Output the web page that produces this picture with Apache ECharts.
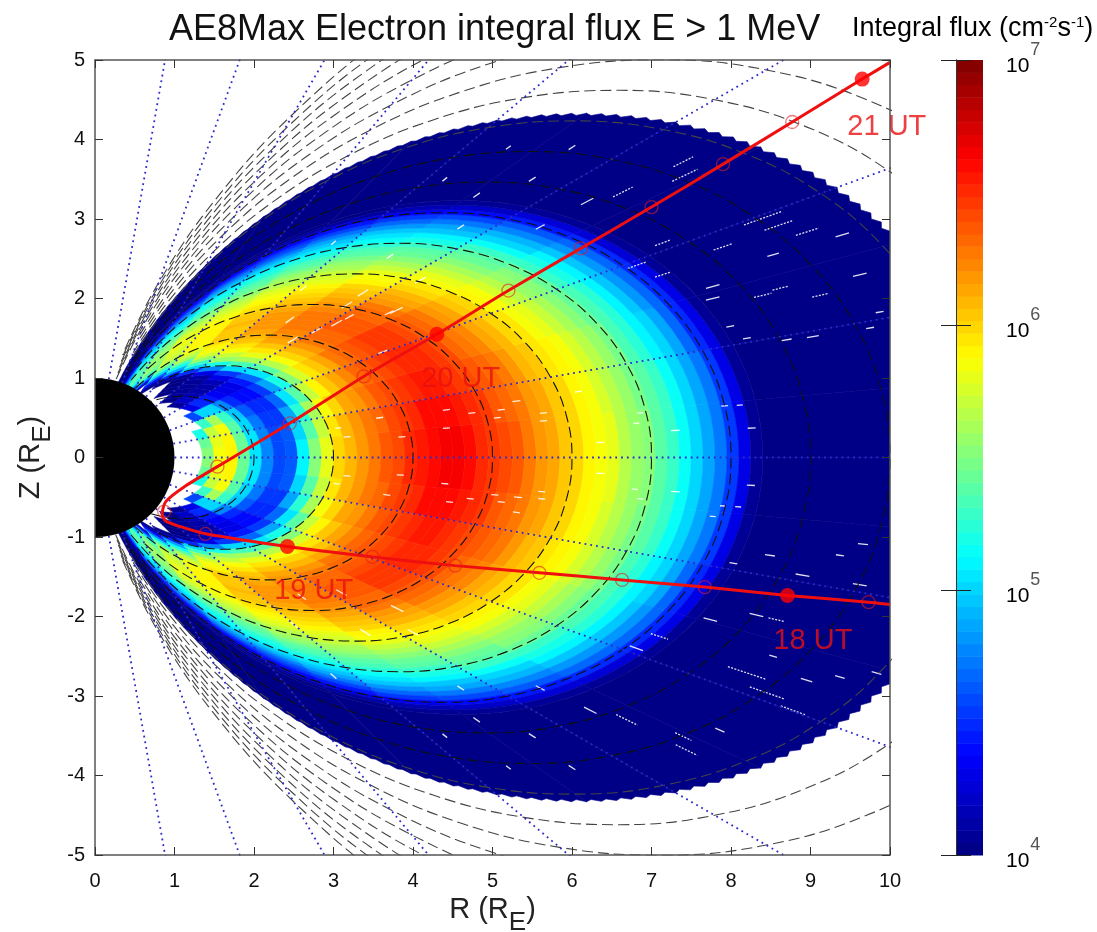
<!DOCTYPE html>
<html><head><meta charset="utf-8">
<style>html,body{margin:0;padding:0;background:#fff}#c{width:1097px;height:932px}</style>
<script src="https://cdn.jsdelivr.net/npm/echarts@6/dist/echarts.min.js"></script>
</head><body><div id="c"></div>
<script>
// Shell boundaries (L, in Earth radii), one more than fluxTable rows
const shellEdges=[1.35,1.5,1.65,1.8,1.95,2.1,2.25,2.4,2.55,2.7,2.85,3,3.15,3.3,3.45,3.6,3.75,3.9,4.05,4.2,4.35,4.5,4.65,4.8,4.95,5.1,5.25,5.4,5.55,5.7,5.85,6,6.15,6.3,6.45,6.6,6.75,6.9,7.05,7.2,7.35,7.5,7.65,7.8,7.95,8.1,8.25,8.4,11.25];
// Magnetic latitude table (deg) with dipole field-line shape: R/L, Z/L, r/L, and ray direction
const latTable=[0,5,10,15,20,25,30,35,40,45,50,55,60,65,70,75,80];
const shapeR=[1,.9886,.9551,.9012,.8298,.7444,.6495,.5497,.4495,.3536,.2656,.1887,.125,.0755,.04,.0173,.0052];
const shapeZ=[0,.0865,.1684,.2415,.302,.3471,.375,.3849,.3772,.3536,.3165,.2695,.2165,.1619,.1099,.0647,.0297];
const shapeRad=[1,.9924,.9698,.933,.883,.8214,.75,.671,.5868,.5,.4132,.329,.25,.1786,.117,.067,.0302];
const rayCos=[1,.9848,.9397,.866,.766,.6428,.5,.342,.1736];
const raySin=[0,.1736,.342,.5,.6428,.766,.866,.9397,.9848];
// log10 flux: row = shell, column = latitude band starting at latTable[col]; missing = below 1e4
const fluxTable=[
[5.5,5.45,5.2],
[5.85,5.8,5.7,5.3,4.6],
[5.9,5.88,5.85,5.6,5,4.3,4.05],
[5.45,5.45,5.4,5.3,5,4.5,4.2,4.02],
[5.05,5.05,5,4.95,4.75,4.45,4.15,4.05],
[4.75,4.75,4.72,4.65,4.5,4.35,4.12,4.05,4.02],
[4.6,4.6,4.55,4.5,4.4,4.3,4.12,4.05,4.02],
[4.65,4.62,4.55,4.48,4.4,4.3,4.15,4.05,4.02],
[5.1,5,4.85,4.7,4.55,4.45,4.3,4.1,4.03],
[5.5,5.4,5.25,5.05,4.85,4.7,4.55,4.3,4.08,4.02],
[5.8,5.72,5.6,5.4,5.2,5.05,5,4.75,4.5,4.1,4.02],
[6,5.95,5.85,5.7,5.5,5.4,5.35,5.2,5,4.5,4.1],
[6.1,6.08,6,5.9,5.75,5.65,5.6,5.55,5.3,4.85,4.4],
[6.2,6.18,6.12,6.05,5.95,5.85,5.8,5.7,5.55,5.15,4.7],
[6.28,6.25,6.2,6.15,6.05,6,5.95,5.85,5.75,5.4,5,4.1],
[6.35,6.33,6.28,6.22,6.15,6.1,6.05,5.95,5.85,5.6,5.25,4.4],
[6.42,6.4,6.35,6.3,6.25,6.18,6.12,6.05,5.92,5.7,5.45,4.7],
[6.5,6.48,6.42,6.38,6.32,6.25,6.18,6.1,6,5.8,5.55,5,4.1],
[6.55,6.52,6.48,6.43,6.38,6.3,6.22,6.14,6.02,5.85,5.65,5.25,4.5],
[6.6,6.58,6.53,6.48,6.42,6.33,6.25,6.17,6.05,5.88,5.7,5.4,4.7],
[6.63,6.6,6.55,6.5,6.45,6.36,6.27,6.18,6.06,5.9,5.75,5.48,4.9],
[6.65,6.62,6.57,6.52,6.46,6.37,6.28,6.18,6.07,5.92,5.78,5.52,5.05],
[6.58,6.56,6.53,6.5,6.45,6.36,6.27,6.16,6.05,5.92,5.8,5.55,5.2],
[6.52,6.5,6.48,6.45,6.42,6.33,6.24,6.13,6.03,5.9,5.82,5.57,5.28],
[6.45,6.44,6.42,6.4,6.37,6.3,6.2,6.1,6,5.88,5.82,5.58,5.33],
[6.4,6.38,6.36,6.34,6.31,6.25,6.15,6.05,5.95,5.85,5.8,5.58,5.36],
[6.35,6.33,6.31,6.28,6.25,6.2,6.1,6,5.9,5.82,5.77,5.56,5.38],
[6.28,6.27,6.25,6.22,6.2,6.13,6.04,5.94,5.85,5.78,5.72,5.54,5.38],
[6.2,6.2,6.18,6.15,6.13,6.07,5.97,5.88,5.8,5.72,5.65,5.5,5.36,4.6],
[6.13,6.13,6.1,6.08,6.06,6,5.9,5.82,5.74,5.65,5.58,5.45,5.33,4.9],
[6.05,6.05,6.03,6,5.98,5.93,5.86,5.76,5.68,5.58,5.52,5.38,5.28,5],
[5.98,5.97,5.95,5.93,5.9,5.87,5.8,5.7,5.62,5.52,5.45,5.32,5.22,5],
[5.92,5.91,5.9,5.87,5.83,5.8,5.72,5.63,5.56,5.45,5.38,5.26,5.16,4.95],
[5.87,5.86,5.84,5.8,5.76,5.72,5.63,5.55,5.48,5.38,5.32,5.2,5.1,4.9],
[5.8,5.78,5.76,5.72,5.68,5.62,5.54,5.47,5.4,5.32,5.26,5.14,5.05,4.85],
[5.68,5.67,5.65,5.62,5.58,5.52,5.45,5.4,5.33,5.25,5.2,5.07,4.98,4.8],
[5.58,5.57,5.55,5.52,5.5,5.44,5.38,5.32,5.25,5.18,5.13,5,4.92,4.7],
[5.5,5.49,5.47,5.44,5.41,5.36,5.3,5.25,5.15,5.1,5.05,4.92,4.85,4.6],
[5.38,5.37,5.35,5.33,5.31,5.27,5.2,5.15,5.05,5,4.97,4.82,4.75,4.5],
[5.28,5.27,5.25,5.23,5.2,5.15,5.1,5.05,4.95,4.9,4.85,4.72,4.65,4.4],
[5.15,5.14,5.12,5.1,5.08,5.02,4.98,4.95,4.85,4.78,4.75,4.62,4.55,4.3],
[5.02,5.01,5,4.97,4.95,4.9,4.86,4.82,4.72,4.65,4.62,4.5,4.45,4.2],
[4.88,4.87,4.86,4.84,4.82,4.78,4.73,4.68,4.6,4.52,4.5,4.4,4.32,4.12],
[4.72,4.71,4.7,4.68,4.67,4.62,4.58,4.52,4.45,4.4,4.35,4.25,4.2,4.05],
[4.52,4.52,4.5,4.48,4.47,4.44,4.4,4.35,4.3,4.25,4.2,4.12,4.08,4.03],
[4.32,4.32,4.3,4.29,4.28,4.25,4.22,4.18,4.12,4.1,4.08,4.05,4.03,4.02],
[4.08,4.08,4.07,4.07,4.06,4.06,4.05,4.05,4.04,4.03,4.03,4.02,4.02,4.02],
[4.02,4.02,4.02,4.02,4.02,4.02,4.02,4.02,4.02,4.02,4.02,4.02,4.02,4.02,4.02]
];
// White gaps in the flux map: R, Z, length
const gapMarks=[[4.42,.6,7],[4.74,.56,7],[5.06,.5,7],[5.11,.6,7],[5.3,.71,8],[5.64,.56,7],[5.64,.46,7],[6.08,.83,7],[6.36,.19,8],[6.36,-.2,8],[4.42,.37,7],[4.4,-.33,7],[4.46,-.56,7],[4.72,-.52,7],[5.03,-.47,7],[5.11,-.56,7],[5.32,-.5,8],[5.3,-.69,7],[5.62,-.43,7],[5.62,-.52,7],[3.84,-.22,7],[3.86,.26,7],[3.58,.5,7],[3.67,-.47,7],[3.17,.26,7],[3.17,-.23,7],[3.06,.37,6],[3.04,-.33,6],[3.62,1.33,10],[3.2,1.77,10],[3.7,1.82,10],
[7.3,.34,9],[7.3,-.43,9],[6.86,.56,6],[6.81,.43,6],[6.79,-.4,6],[6.86,-.52,6],[7.92,.65,7],[8.11,.66,6],[8.26,.37,8],[8.25,-.35,8],[7.9,-.61,6],[8.09,-.62,6],[7.77,-.74,6],
[8.4,3.01,40],[7.9,2.65,20],[8.6,2.92,30],[7.4,3.72,22],[7.42,3.55,28],[6.64,3.34,22],[6.19,3.22,14],[6.82,2.42,20],[7.14,2.7,16],[8.96,2.84,24],[9.4,2.8,14],[8.53,2.55,12],[7.77,2.15,14],[8.4,2.04,18],[8.62,2.13,16],[9.12,2.04,16],[9.62,2.3,14],[7.14,2.3,16],[7.77,2,14],[8.7,1.48,10],[9.03,1.52,12],[8.2,1.5,8],[7.99,1.65,8],[9.87,1.83,8],[9.75,1.63,8],
[8.2,-2.71,40],[8.45,-2.96,36],[8.78,-3.18,26],[8.57,-2.04,16],[8.32,-1.98,14],[7.74,-2.04,14],[7.1,-2.25,18],[6.81,-2.4,14],[6.69,-3.3,24],[7.4,-3.51,18],[7.44,-3.68,24],[6.23,-3.18,14],[7.86,-3.43,10],[9.37,-2.76,10],[8.95,-2.8,12],[8.53,-2.5,8],[8.9,-1.48,14],[9.62,-1.6,14],[8.49,-1.23,10],[9.37,-1.23,8],[9.66,-1.09,10],[8.03,-1.33,8],[9.83,-2.71,10],
[3.04,1.69,12],[3.79,1.85,14],[3.17,1.92,12],[2.45,1.73,10],[3.37,2.07,12],[4.09,2.23,12],[2.62,2.13,8],[3.71,2.53,8],[3,2.7,6],[2.79,1.6,12],[2.49,1.48,12],[3.1,-1.7,12],[3.8,-1.9,14],[2.6,-1.75,10],[4,-2.2,12],[3.4,-2.2,12],[3,-2.75,8],[2.5,-2.1,10],[4.6,2.9,8],[5.5,3.5,8],[4.8,3.3,8],[5.6,2.9,10],[4.4,3.5,6],[5.2,3.9,6],[6,3.9,8],[4.6,-2.9,8],[5.5,-3.5,8],[4.8,-3.3,8],[5.6,-2.9,10],[4.4,-3.5,6],[5.2,-3.9,6],[6,-3.9,8]];
// L shells drawn as dashed field lines
const shellLines=[2,3,4,5,6,7,8,9,10,11,12,13,14,15,16,17,18,19,20];
// Spacecraft track (R, Z)
const orbitR=[10,9.73,8.71,7.67,6.63,5.59,4.53,3.49,2.42,1.39,1.075,.89,.845,.89,1.12,1.54,2.45,3.38,4.3,5.2,6.11,7,7.9,8.77,9.65,10];
const orbitZ=[-1.85,-1.82,-1.735,-1.63,-1.54,-1.45,-1.36,-1.25,-1.12,-.96,-.87,-.8,-.71,-.555,-.37,-.115,.43,1.02,1.55,2.1,2.63,3.15,3.69,4.22,4.76,4.97];
const openR=[9.73,7.67,6.63,5.59,4.53,3.49,1.39,.87,1.54,2.45,3.38,5.2,6.11,7,7.9,8.77];
const openZ=[-1.82,-1.63,-1.54,-1.45,-1.36,-1.25,-.96,-.68,-.115,.43,1.02,2.1,2.63,3.15,3.69,4.22];
const hourR=[8.71,2.42,4.3,9.65];
const hourZ=[-1.735,-1.12,1.55,4.76];
const hourText=['18 UT','19 UT','20 UT','21 UT'];
const hourTextR=[9.03,2.75,4.6,9.96];
const hourTextZ=[-2.31,-1.68,.99,4.16];
const barExponents=[4,5,6,7];

function clamp(v){return Math.max(0,Math.min(1,v));}
const jet=[];
for(let i=0;i<64;i++){const x=(i+.5)/64;
  jet.push('rgb('+[4*x-3,4*x-2,4*x-1].map(d=>Math.round(255*clamp(1.5-Math.abs(d)))).join(',')+')');}
function colorOf(v){return jet[Math.max(0,Math.min(63,Math.floor((v-4)/3*64)))];}
// dipole coordinates (L, latitude) to the chart's (R, Z)
function dipole(L,latDeg,s){const a=latDeg*Math.PI/180,c=Math.cos(a);return [L*c*c*c,s*L*c*c*Math.sin(a)];}

const lastRow=fluxTable.length-1;
const cells=[];
fluxTable.forEach((row,r)=>{row.forEach((v,c)=>{
  [1,-1].forEach(s=>cells.push([shellEdges[r],shellEdges[r+1],c,s,v,r]));
});});
const fieldSeries=shellLines.map(L=>{
  const north=[];
  latTable.forEach((_,i)=>{if(L*shapeRad[i]>=1)north.push([L*shapeR[i],L*shapeZ[i]]);});
  const south=north.slice(1).reverse().map(p=>[p[0],-p[1]]);
  return {type:'line',xAxisIndex:0,yAxisIndex:0,data:south.concat(north),showSymbol:false,smooth:.4,z:3,silent:true,
    lineStyle:{color:L>10?'#444':'#111',width:1.1,type:[11,5]}};
});
const raySeries=[];
rayCos.forEach((c,i)=>{[1,-1].forEach(s=>{
  if(i===0&&s<0)return;
  raySeries.push({type:'line',xAxisIndex:0,yAxisIndex:0,data:[[c,s*raySin[i]],[c*13,s*raySin[i]*13]],showSymbol:false,z:4,silent:true,
    lineStyle:{color:'#2a2acc',width:1.8,type:[1.8,4]}});
});});
const zip=(a,b)=>a.map((v,i)=>[v,b[i]]);
const tickAxis=(extra)=>Object.assign({type:'value',min:-5,max:5,interval:1,z:20,splitLine:{show:false},
  axisLine:{show:true,onZero:false,lineStyle:{color:'#555',width:1.5}},
  axisTick:{show:true,inside:true,length:8,lineStyle:{color:'#333',width:1}},
  axisLabel:{show:false}},extra);
const font='"Liberation Sans",Arial,sans-serif';
const labelStyle={show:true,fontFamily:font,fontSize:20,color:'#111'};
const chart=echarts.init(document.getElementById('c'),null,{renderer:'canvas'});
chart.setOption({
  animation:false,backgroundColor:'#fff',
  title:{text:'AE8Max Electron integral flux E > 1 MeV',left:164,top:7,textStyle:{fontFamily:font,fontWeight:'normal',fontSize:36,color:'#111'}},
  graphic:[{type:'text',left:852,top:15,style:{fontFamily:font,rich:{n:{fontFamily:font,fontSize:27,color:'#222'},s:{fontFamily:font,fontSize:15,color:'#444',padding:[0,0,12,0]}},
    text:'{n|Integral flux (cm}{s|-2}{n|s}{s|-1}{n|)}'}}],
  grid:[{left:95,top:60,width:795,height:795,outerBoundsMode:'none'},{left:956,top:60,width:27,height:795,outerBoundsMode:'none'}],
  xAxis:[
    tickAxis({min:0,max:10,gridIndex:0,position:'bottom',axisLabel:{...labelStyle,margin:16},
      name:'{n|R (R}{s|E}{n|)}',nameLocation:'middle',nameGap:28,
      nameTextStyle:{rich:{n:{fontFamily:font,fontSize:29,color:'#222'},s:{fontFamily:font,fontSize:26,color:'#222',padding:[24,0,0,0]}}}}),
    tickAxis({min:0,max:10,gridIndex:0,position:'top'}),
    {type:'value',gridIndex:1,min:0,max:1,show:false}
  ],
  yAxis:[
    tickAxis({gridIndex:0,position:'left',axisLabel:{...labelStyle,margin:10},
      name:'{n|Z (R}{s|E}{n|)}',nameLocation:'middle',nameGap:30,nameRotate:90,
      nameTextStyle:{rich:{n:{fontFamily:font,fontSize:29,color:'#222'},s:{fontFamily:font,fontSize:26,color:'#222',padding:[24,0,0,0]}}}}),
    tickAxis({gridIndex:0,position:'right'}),
    {type:'value',gridIndex:1,min:4,max:7,interval:1,position:'right',z:20,splitLine:{show:false},
      axisLine:{show:true,lineStyle:{color:'#333',width:1}},axisTick:{show:true,length:15,lineStyle:{color:'#222',width:1}},
      axisLabel:{show:true,margin:23,formatter:v=>barExponents.includes(v)?'{b|10}{s|'+v+'}':'',
        rich:{b:{fontFamily:font,fontSize:21,color:'#000',padding:[12,0,0,0]},s:{fontFamily:font,fontSize:18,color:'#555',padding:[0,0,20,1]}}}},
    {type:'value',gridIndex:1,min:4,max:7,interval:1,position:'left',z:20,splitLine:{show:false},
      axisLine:{show:true,lineStyle:{color:'#333',width:1}},axisTick:{show:true,length:15,lineStyle:{color:'#222',width:1}},axisLabel:{show:false}}
  ],
  series:[
    {type:'custom',xAxisIndex:0,yAxisIndex:0,clip:true,z:1,silent:true,data:cells,encode:{x:0,y:1},
      renderItem(p,api){
        const a=api.value(0),b=api.value(1),c=api.value(2),s=api.value(3),col=colorOf(api.value(4)),outer=api.value(5)===lastRow;
        const lat0=latTable[c],lat1=latTable[c+1],n=outer?12:4,pts=[];
        for(let k=0;k<=n;k++)pts.push(api.coord(dipole(a,lat0+(lat1-lat0)*k/n,s)));
        for(let k=n;k>=0;k--)pts.push(api.coord(dipole(outer&&k%2?b-.07:b,lat0+(lat1-lat0)*k/n,s)));
        return {type:'polygon',shape:{points:pts},style:{fill:col,stroke:col,lineWidth:.6}};
      }},
    {type:'custom',xAxisIndex:0,yAxisIndex:0,clip:true,z:2,silent:true,data:gapMarks,encode:{x:0,y:1},
      renderItem(p,api){
        const o=api.coord([api.value(0),api.value(1)]),len=api.value(2)/2;
        const t=Math.atan2(api.value(1),api.value(0)),dx=Math.cos(t)*len,dy=-Math.sin(t)*len;
        return {type:'line',shape:{x1:o[0]-dx,y1:o[1]-dy,x2:o[0]+dx,y2:o[1]+dy},
          style:{stroke:'rgba(255,255,255,.88)',lineWidth:1.3,lineDash:len>7?[2,1.4]:null}};
      }},
    ...fieldSeries,...raySeries,
    {type:'custom',xAxisIndex:0,yAxisIndex:0,clip:true,z:6,silent:true,data:[[0,0,1]],encode:{x:0,y:1},
      renderItem(p,api){const o=api.coord([0,0]);const r=api.size([api.value(2),0])[0];
        return {type:'circle',shape:{cx:o[0],cy:o[1],r},style:{fill:'#000'}};}},
    {type:'line',xAxisIndex:0,yAxisIndex:0,data:zip(orbitR,orbitZ),showSymbol:false,smooth:.25,z:8,silent:true,lineStyle:{color:'#f00f0f',width:3}},
    {type:'scatter',xAxisIndex:0,yAxisIndex:0,data:zip(openR,openZ),symbolSize:13,z:9,silent:true,itemStyle:{color:'rgba(0,0,0,0)',borderColor:'rgba(225,30,30,.75)',borderWidth:1.3}},
    {type:'scatter',xAxisIndex:0,yAxisIndex:0,data:zip(hourR,hourZ),symbolSize:15,z:9,silent:true,itemStyle:{color:'#f00'}},
    {type:'scatter',xAxisIndex:0,yAxisIndex:0,data:zip(hourTextR,hourTextZ).map((p,i)=>({value:p,name:hourText[i]})),symbolSize:0,z:10,silent:true,clip:false,
      label:{show:true,position:'inside',formatter:'{b}',fontFamily:font,fontSize:29,color:'#e81010'}},
    {type:'custom',xAxisIndex:2,yAxisIndex:2,z:2,silent:true,data:jet.map((_,i)=>[i]),encode:{y:0},
      renderItem(p,api){const i=api.value(0);
        const a=api.coord([0,4+3*i/64]),b=api.coord([1,4+3*(i+1)/64]);
        return {type:'rect',shape:{x:a[0],y:b[1],width:b[0]-a[0],height:a[1]-b[1]+.5},style:{fill:jet[i]}};}}
  ]
});
</script></body></html>
